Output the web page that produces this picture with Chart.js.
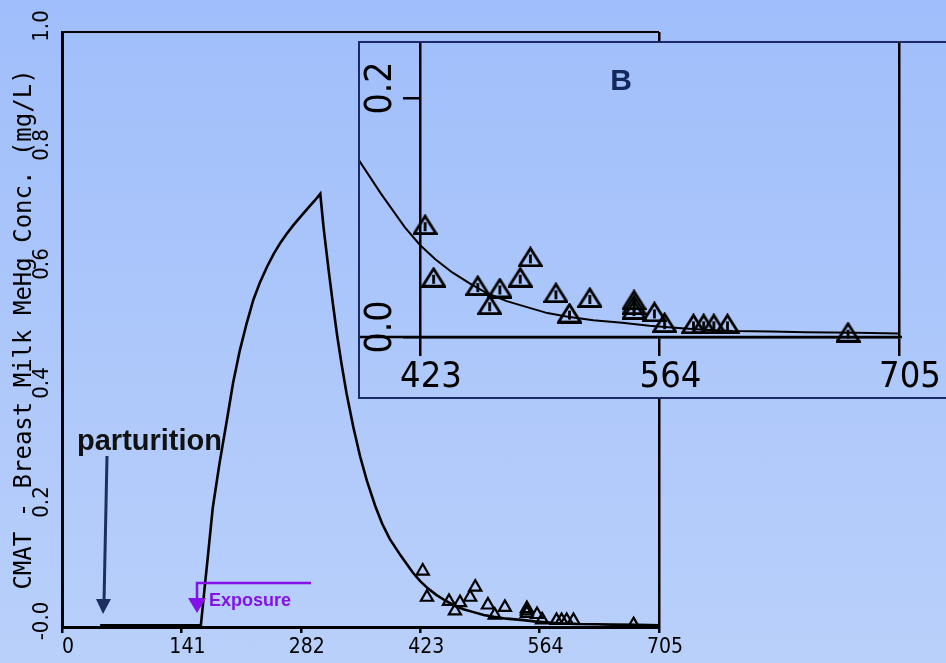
<!DOCTYPE html>
<html>
<head>
<meta charset="utf-8">
<script src="https://cdn.jsdelivr.net/npm/chart.js@4.4.1/dist/chart.umd.min.js"></script>
<style>
  html, body { margin: 0; padding: 0; }
  body {
    width: 946px; height: 663px; overflow: hidden; position: relative;
    background: linear-gradient(#a0befb, #b9d0fa) fixed;
  }
  #main { position: absolute; left: 0; top: 0; }
  #inset {
    position: absolute; left: 358px; top: 41px; width: 600px; height: 354px;
    border: 2px solid #1b2a66;
    background: linear-gradient(#a0befb, #b9d0fa) fixed;
  }
  #insetChart { position: absolute; left: 0; top: 0; }
</style>
</head>
<body>
<canvas id="main" width="946" height="663"></canvas>
<div id="inset"><canvas id="insetChart" width="586" height="354"></canvas></div>
<script>
'use strict';

// model curve (days, mg/L)
const curveDays = [45, 100, 164, 168, 172, 178, 186, 195, 202, 210, 218, 226, 234, 242, 250, 258, 265, 273, 282, 290, 298, 305,
  309, 315, 320, 325, 330, 336, 344, 352, 360, 370, 378, 387, 400, 414, 423, 432, 442, 452, 462, 474, 486, 498, 510, 525,
  542, 558, 575, 590, 607, 630, 650, 680, 705];
const curveConc = [0.003, 0.003, 0.003, 0.06, 0.115, 0.2, 0.275, 0.35, 0.41, 0.465, 0.51, 0.55, 0.58, 0.605, 0.627, 0.646, 0.66, 0.675, 0.69, 0.703, 0.716, 0.728,
  0.67, 0.598, 0.542, 0.489, 0.443, 0.393, 0.336, 0.287, 0.246, 0.203, 0.174, 0.148, 0.12, 0.092, 0.077, 0.065, 0.054, 0.045, 0.037, 0.03, 0.025, 0.02, 0.017, 0.014,
  0.012, 0.0095, 0.0075, 0.006, 0.005, 0.0045, 0.004, 0.0035, 0.003];

// observed milk samples
const obsDays = [426, 431, 457, 464, 470, 482, 488, 503, 511, 523, 549, 549, 549, 561, 567, 584, 590, 596, 604, 675];
const obsConc = [0.094, 0.05, 0.043, 0.027, 0.041, 0.05, 0.067, 0.037, 0.02, 0.033, 0.031, 0.027, 0.023, 0.021, 0.012, 0.011, 0.011, 0.011, 0.011, 0.004];

const mainXTicks = [0, 141, 282, 423, 564, 705];
const mainYTicks = [0, 0.2, 0.4, 0.6, 0.8, 1.0];
const insetXTicks = [423, 564, 705];
const insetYTicks = [0, 0.2];

const yTitle = 'CMAT - Breast Milk MeHg Conc. (mg/L)';

const curvePts = curveDays.map((d, i) => ({ x: d, y: curveConc[i] }));
const obsPts = obsDays.map((d, i) => ({ x: d, y: obsConc[i] }));

const condensed = "'DejaVu Sans Condensed', 'Liberation Sans Narrow', sans-serif";
const setTicks = (arr) => (axis) => { axis.ticks = arr.map((v) => ({ value: v })); };
const yLabel = (v) => (v === 0 ? '-0.0' : v.toFixed(1));
const only = (val, color) => (c) => (c.tick && Math.abs(c.tick.value - val) < 1e-9 ? color : 'rgba(0,0,0,0)');

// arrows and labels on the main plot
const mainNotes = {
  id: 'mainNotes',
  afterDraw(chart) {
    const ctx = chart.ctx;
    ctx.save();
    ctx.fillStyle = '#111';
    ctx.font = "bold 29px 'Liberation Sans', Arial, sans-serif";
    ctx.textBaseline = 'alphabetic';
    ctx.fillText('parturition', 77, 450);

    ctx.strokeStyle = '#1c2f5f';
    ctx.fillStyle = '#1c2f5f';
    ctx.lineWidth = 3;
    ctx.beginPath();
    ctx.moveTo(107, 456);
    ctx.lineTo(104, 602);
    ctx.stroke();
    ctx.beginPath();
    ctx.moveTo(96, 599);
    ctx.lineTo(111, 599);
    ctx.lineTo(103, 614);
    ctx.closePath();
    ctx.fill();

    const purple = '#8412e6';
    ctx.strokeStyle = purple;
    ctx.fillStyle = purple;
    ctx.lineWidth = 2.5;
    ctx.beginPath();
    ctx.moveTo(311, 583);
    ctx.lineTo(197, 583);
    ctx.lineTo(197, 600);
    ctx.stroke();
    ctx.beginPath();
    ctx.moveTo(188, 598);
    ctx.lineTo(206, 598);
    ctx.lineTo(197, 613);
    ctx.closePath();
    ctx.fill();
    ctx.font = "bold 18px 'Liberation Sans', Arial, sans-serif";
    ctx.fillText('Exposure', 209, 606);
    ctx.restore();
  }
};

new Chart(document.getElementById('main'), {
  type: 'scatter',
  data: {
    datasets: [
      { type: 'line', data: curvePts, borderColor: '#000', borderWidth: 2.6, pointRadius: 0, tension: 0, fill: false },
      { data: obsPts, pointStyle: 'triangle', pointRadius: 7, borderColor: '#000', borderWidth: 2.2, backgroundColor: 'rgba(0,0,0,0)' }
    ]
  },
  options: {
    responsive: false,
    animation: false,
    layout: { padding: { top: 32, right: 287, left: 0, bottom: 0 } },
    plugins: { legend: { display: false }, tooltip: { enabled: false } },
    scales: {
      x: {
        type: 'linear', min: 0, max: 705,
        afterBuildTicks: setTicks(mainXTicks),
        afterFit: (s) => { s.height = 36; },
        ticks: { color: '#000', font: { family: condensed, size: 21 }, padding: 2, labelOffset: 6, maxRotation: 0 },
        grid: { color: only(705, '#000'), tickColor: '#000', lineWidth: 2.5, tickLength: 6 },
        border: { color: '#000', width: 3 }
      },
      y: {
        type: 'linear', min: 0, max: 1,
        afterBuildTicks: setTicks(mainYTicks),
        afterFit: (s) => { s.width = 62; },
        ticks: {
          color: '#000', font: { family: condensed, size: 22 }, minRotation: 90, maxRotation: 90,
          crossAlign: 'center', padding: 0, labelOffset: -6, callback: yLabel
        },
        grid: { color: only(1, '#000'), drawTicks: false, lineWidth: 2 },
        border: { color: '#000', width: 3 },
        title: {
          display: true, text: yTitle, color: '#000',
          font: { family: "'DejaVu Sans Mono', monospace", size: 24 }, padding: { top: 10, bottom: 0 }
        }
      }
    }
  },
  plugins: [mainNotes]
});

// inset marker: open triangle with a short stem
const marker = document.createElement('canvas');
marker.width = 25;
marker.height = 21;
{
  const m = marker.getContext('2d');
  m.strokeStyle = '#000';
  m.lineWidth = 2.8;
  m.beginPath();
  m.moveTo(12.5, 2);
  m.lineTo(23.5, 19.5);
  m.lineTo(1.5, 19.5);
  m.closePath();
  m.stroke();
  m.beginPath();
  m.moveTo(12.5, 8);
  m.lineTo(12.5, 17);
  m.stroke();
}

const insetNotes = {
  id: 'insetNotes',
  afterDraw(chart) {
    const ctx = chart.ctx;
    const x = chart.scales.x;
    const y0 = chart.scales.y.getPixelForValue(0);
    ctx.save();
    // axis line runs out to the frame on both sides
    ctx.strokeStyle = '#000';
    ctx.lineWidth = 2.5;
    ctx.beginPath();
    ctx.moveTo(0, y0);
    ctx.lineTo(x.right + 3, y0);
    ctx.stroke();
    ctx.fillStyle = '#14285c';
    ctx.font = "bold 30px 'Liberation Sans', Arial, sans-serif";
    ctx.textAlign = 'center';
    ctx.textBaseline = 'middle';
    ctx.fillText('B', 261, 39);
    ctx.restore();
  }
};

new Chart(document.getElementById('insetChart'), {
  type: 'scatter',
  data: {
    datasets: [
      { type: 'line', data: curvePts, borderColor: '#000', borderWidth: 2, pointRadius: 0, tension: 0, fill: false, clip: false },
      { data: obsPts, pointStyle: marker, pointRadius: 10 }
    ]
  },
  options: {
    responsive: false,
    animation: false,
    layout: { autoPadding: false, padding: { top: 0, right: 47, left: 0, bottom: 0 } },
    plugins: { legend: { display: false }, tooltip: { enabled: false } },
    scales: {
      x: {
        type: 'linear', bounds: 'data',
        afterDataLimits: (s) => { s.min = 423; s.max = 705; },
        afterBuildTicks: setTicks(insetXTicks),
        afterFit: (s) => { s.height = 60; s.paddingLeft = 0; s.paddingRight = 0; },
        ticks: { color: '#000', font: { family: condensed, size: 36 }, padding: 0, labelOffset: 11, maxRotation: 0 },
        grid: { color: only(705, '#000'), tickColor: '#000', lineWidth: 2.5, tickLength: 19 },
        border: { color: '#000', width: 2.5 }
      },
      y: {
        type: 'linear', bounds: 'data',
        afterDataLimits: (s) => { s.min = 0; s.max = 0.246; },
        afterBuildTicks: setTicks(insetYTicks),
        afterFit: (s) => { s.width = 60; s.paddingTop = 0; s.paddingBottom = 0; },
        ticks: {
          color: '#000', font: { family: condensed, size: 37 }, minRotation: 90, maxRotation: 90,
          crossAlign: 'center', padding: -5, labelOffset: -10, callback: (v) => v.toFixed(1)
        },
        grid: { drawOnChartArea: false, tickColor: '#000', lineWidth: 2.5, tickLength: 17 },
        border: { color: '#000', width: 2.5 }
      }
    }
  },
  plugins: [insetNotes]
});
</script>
</body>
</html>
